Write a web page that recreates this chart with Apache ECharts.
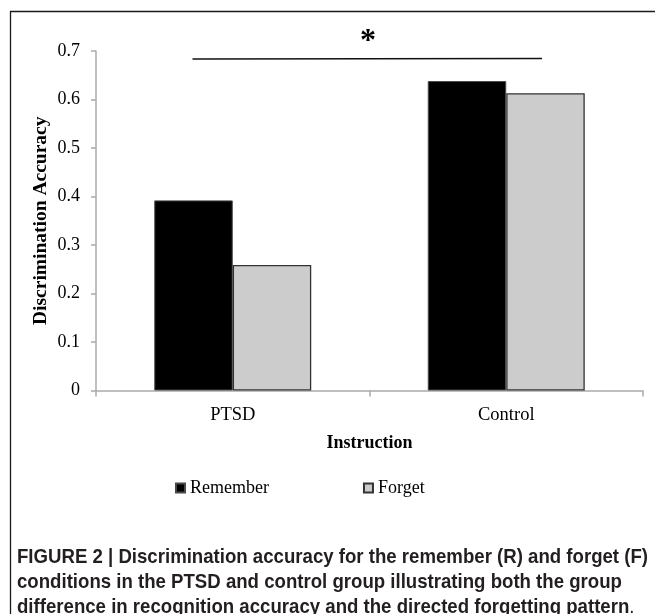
<!DOCTYPE html>
<html>
<head>
<meta charset="utf-8">
<script src="https://cdn.jsdelivr.net/npm/echarts@6/dist/echarts.min.js"></script>
<style>
html,body{margin:0;padding:0;background:#fff;}
#c{width:655px;height:614px;}
</style>
</head>
<body>
<div id="c"></div>
<script>
var categories = ['PTSD', 'Control'];
var seriesNames = ['Remember', 'Forget'];
var rememberValues = [0.392, 0.638];
var forgetValues = [0.259, 0.613];
var yTickLabels = ['0', '0.1', '0.2', '0.3', '0.4', '0.5', '0.6', '0.7'];
var yAxisTitle = 'Discrimination Accuracy';
var xAxisTitle = 'Instruction';
var significanceMark = '*';
var captionLines = [
  'FIGURE 2 | Discrimination accuracy for the remember (R) and forget (F)',
  'conditions in the PTSD and control group illustrating both the group',
  'difference in recognition accuracy and the directed forgetting pattern'
];

var serif = '"Liberation Serif", "DejaVu Serif", serif';
var sans = '"Liberation Sans", Arial, sans-serif';
var capFont = 'bold 21px ' + sans;

// horizontal condensing so the caption's first line spans its width in the figure
var mctx = document.createElement('canvas').getContext('2d');
mctx.font = capFont;
var capScale = 631 / mctx.measureText(captionLines[0]).width;

var chart = echarts.init(document.getElementById('c'), null, {renderer: 'canvas'});
var option = {
  animation: false,
  backgroundColor: '#ffffff',
  grid: {left: 96, right: 12, top: 51, bottom: 223.5, containLabel: false},
  legend: {
    data: seriesNames,
    left: 170, top: 474,
    itemWidth: 9, itemHeight: 9, itemGap: 94,
    icon: 'rect',
    textStyle: {fontFamily: serif, fontSize: 18, color: '#000'}
  },
  xAxis: {
    type: 'category',
    data: categories,
    name: xAxisTitle,
    nameLocation: 'middle',
    nameGap: 44,
    nameMoveOverlap: false,
    nameTextStyle: {fontFamily: serif, fontSize: 18, fontWeight: 'bold', color: '#000'},
    axisLine: {lineStyle: {color: '#ababab', width: 1.5}},
    axisTick: {show: true, length: 6, lineStyle: {color: '#ababab', width: 1.5}},
    axisLabel: {fontFamily: serif, fontSize: 18.5, color: '#000', margin: 15}
  },
  yAxis: {
    type: 'value',
    min: 0, max: 0.7, interval: 0.1,
    name: yAxisTitle,
    nameLocation: 'middle',
    nameRotate: 90,
    nameGap: 45,
    nameMoveOverlap: false,
    nameTextStyle: {fontFamily: serif, fontSize: 19.5, fontWeight: 'bold', color: '#000'},
    axisLine: {show: true, lineStyle: {color: '#ababab', width: 1.5}},
    axisTick: {show: true, length: 5, lineStyle: {color: '#ababab', width: 1.5}},
    splitLine: {show: false},
    axisLabel: {
      fontFamily: serif, fontSize: 18, color: '#000', margin: 16,
      formatter: function (v) { return yTickLabels[Math.round(v * 10)]; }
    }
  },
  series: [
    {
      name: seriesNames[0], type: 'bar', data: rememberValues,
      barWidth: 78.5, barGap: '0%',
      itemStyle: {color: '#000000', borderColor: '#4a4a4a', borderWidth: 1}
    },
    {
      name: seriesNames[1], type: 'bar', data: forgetValues,
      barWidth: 78.5, barGap: '0%',
      itemStyle: {color: '#cccccc', borderColor: '#333333', borderWidth: 1.3}
    }
  ],
  graphic: [
    {type: 'rect', shape: {x: 10.5, y: 11.5, width: 800, height: 800},
     style: {fill: 'none', stroke: '#1a1a1a', lineWidth: 1.3}, silent: true},
    {type: 'line', shape: {x1: 192.5, y1: 59, x2: 542, y2: 58.5},
     style: {stroke: '#111', lineWidth: 1.5}},
    {type: 'text', x: 368, y: 42,
     style: {text: significanceMark, font: 'bold 32px ' + serif, fill: '#000', textAlign: 'center', textVerticalAlign: 'middle'}},
    {type: 'text', x: 17, y: 557, scaleX: capScale,
     style: {text: captionLines[0], font: capFont, fill: '#231f20', textVerticalAlign: 'middle'}},
    {type: 'text', x: 17, y: 582, scaleX: capScale,
     style: {text: captionLines[1], font: capFont, fill: '#231f20', textVerticalAlign: 'middle'}},
    {type: 'text', x: 17, y: 607, scaleX: capScale,
     style: {
       text: '{b|' + captionLines[2] + '}{n|.}',
       textVerticalAlign: 'middle',
       rich: {
         b: {font: capFont, fill: '#231f20', color: '#231f20'},
         n: {font: '21px ' + sans, fill: '#231f20', color: '#231f20'}
       }
     }}
  ]
};
chart.setOption(option);
</script>
</body>
</html>
